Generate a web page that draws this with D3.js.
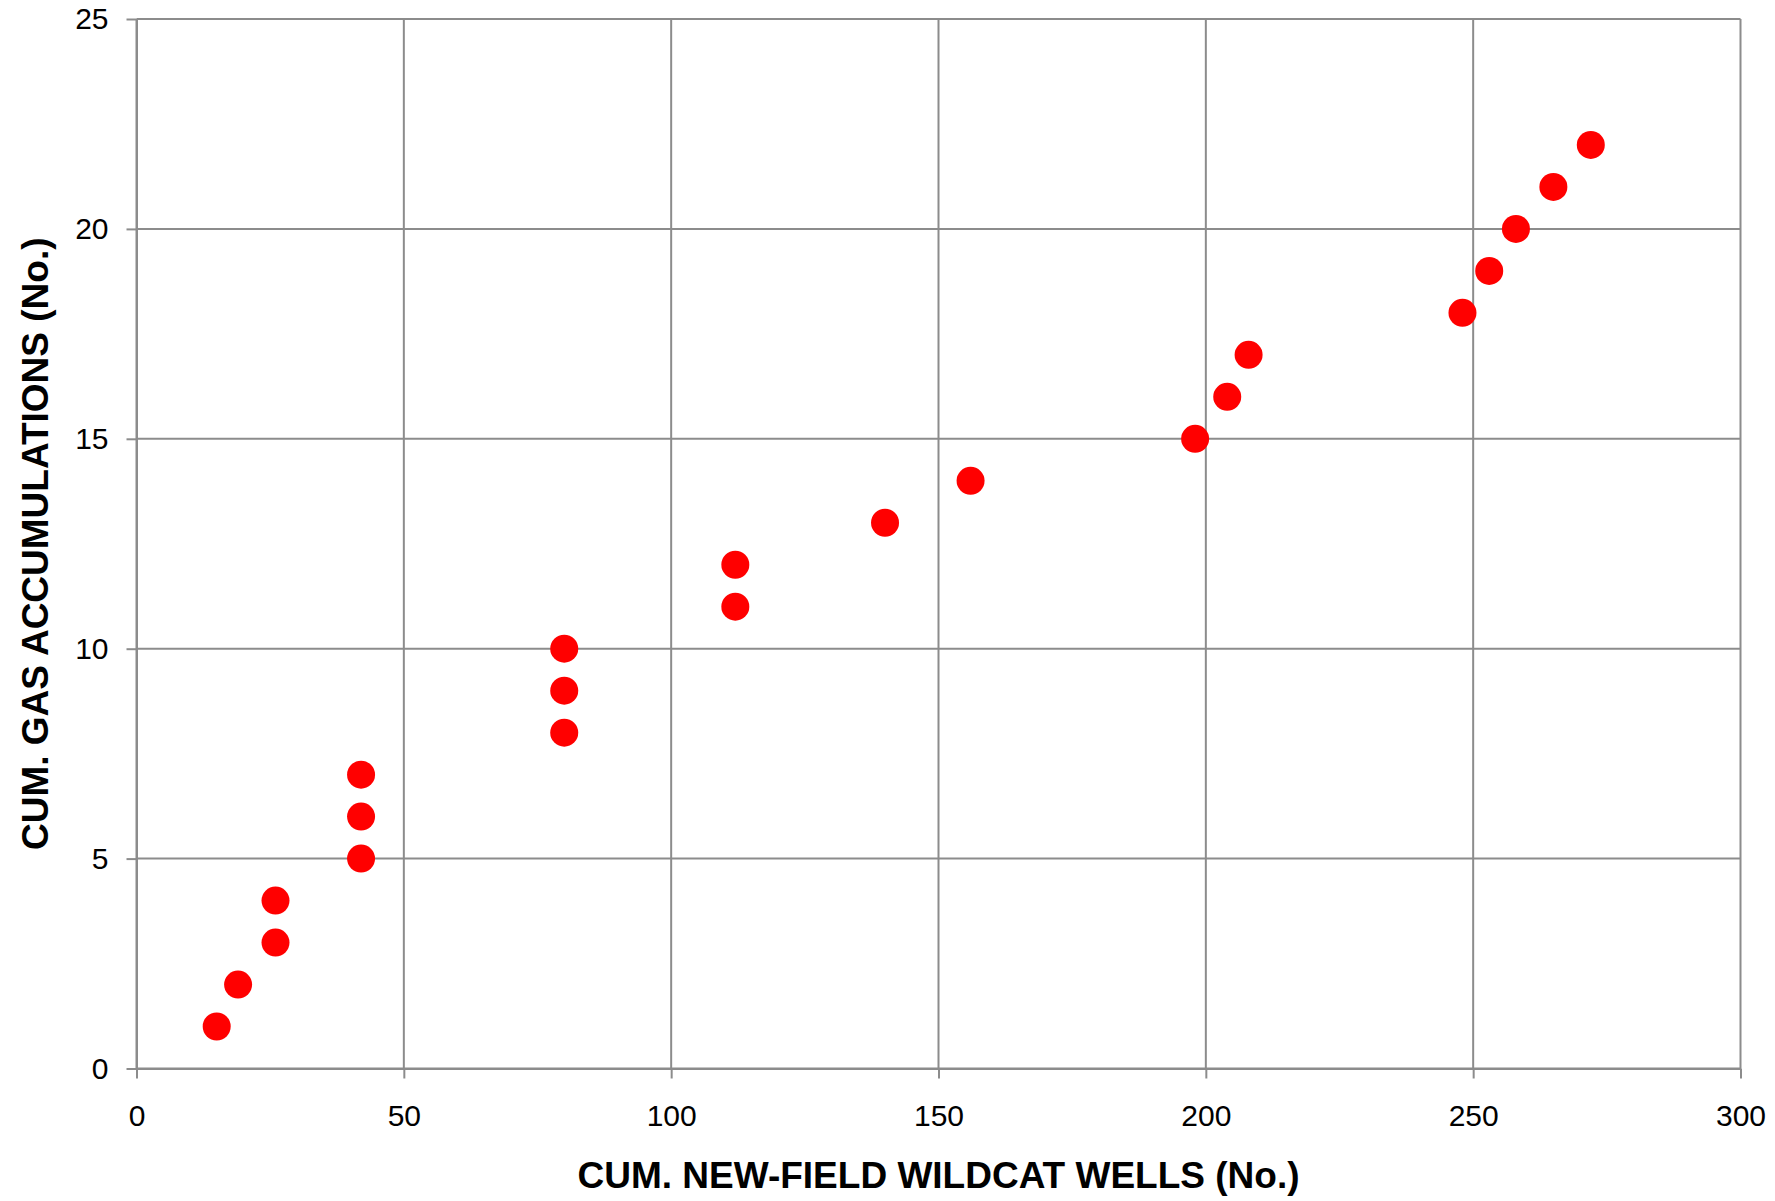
<!DOCTYPE html>
<html>
<head>
<meta charset="utf-8">
<script src="https://cdn.jsdelivr.net/npm/d3@7"></script>
<style>
  html, body { margin: 0; padding: 0; background: #fff; }
  svg { display: block; }
</style>
</head>
<body>
<svg id="chart" width="1775" height="1201"></svg>
<script>
const wells = [15, 19, 26, 26, 42, 42, 42, 80, 80, 80, 112, 112, 140, 156, 198, 204, 208, 248, 253, 258, 265, 272];
const accumulations = [1, 2, 3, 4, 5, 6, 7, 8, 9, 10, 11, 12, 13, 14, 15, 16, 17, 18, 19, 20, 21, 22];
const xTicks = [0, 50, 100, 150, 200, 250, 300];
const yTicks = [0, 5, 10, 15, 20, 25];
const xTitle = "CUM. NEW-FIELD WILDCAT WELLS (No.)";
const yTitle = "CUM. GAS ACCUMULATIONS (No.)";

(function () {
  const svg = d3.select("#chart");
  const pLeft = 136.5, pRight = 1740.5, pTop = 19, pBottom = 1068.5;
  const x = d3.scaleLinear().domain([0, 300]).range([pLeft, pRight]);
  const y = d3.scaleLinear().domain([0, 25]).range([pBottom, pTop]);
  const gridColor = "#8c8c8c";
  const font = "'Liberation Sans', Arial, sans-serif";

  // grid
  svg.append("g").selectAll("line").data(xTicks).join("line")
    .attr("x1", d => x(d)).attr("x2", d => x(d))
    .attr("y1", pTop).attr("y2", pBottom)
    .attr("stroke", gridColor).attr("stroke-width", 2);
  svg.append("g").selectAll("line").data(yTicks).join("line")
    .attr("x1", pLeft).attr("x2", pRight)
    .attr("y1", d => y(d)).attr("y2", d => y(d))
    .attr("stroke", gridColor).attr("stroke-width", 2);

  // axes
  const xAxis = svg.append("g").attr("transform", `translate(0,${pBottom})`)
    .call(d3.axisBottom(x).tickValues(xTicks).tickSize(10).tickPadding(26).tickSizeOuter(0));
  const yAxis = svg.append("g").attr("transform", `translate(${pLeft},0)`)
    .call(d3.axisLeft(y).tickValues(yTicks).tickSize(10).tickPadding(18).tickSizeOuter(0));
  [xAxis, yAxis].forEach(g => {
    g.select(".domain").attr("stroke", gridColor).attr("stroke-width", 2);
    g.selectAll(".tick line").attr("stroke", gridColor).attr("stroke-width", 2);
    g.selectAll(".tick text").attr("fill", "#000").style("font-family", font).style("font-size", "30px");
  });

  // points
  svg.append("g").selectAll("circle").data(wells).join("circle")
    .attr("cx", d => x(d))
    .attr("cy", (d, i) => y(accumulations[i]))
    .attr("r", 14)
    .attr("fill", "#ff0000");

  // titles
  svg.append("text")
    .attr("x", (pLeft + pRight) / 2).attr("y", 1188)
    .attr("text-anchor", "middle")
    .style("font-family", font).style("font-weight", "bold").style("font-size", "37px")
    .text(xTitle);
  svg.append("text")
    .attr("transform", `translate(48,${(pTop + pBottom) / 2}) rotate(-90)`)
    .attr("text-anchor", "middle")
    .style("font-family", font).style("font-weight", "bold").style("font-size", "37px")
    .text(yTitle);
})();
</script>
</body>
</html>
